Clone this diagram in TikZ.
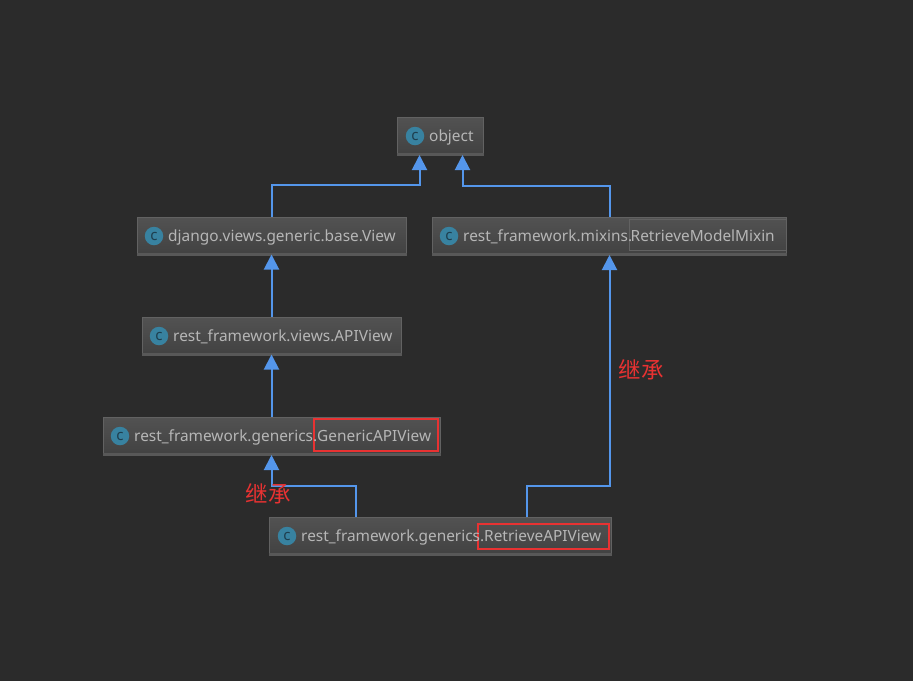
\documentclass[tikz,border=0pt]{standalone}
\usepackage{fontspec}
\setmainfont{Noto Sans}
\newfontfamily\cjk{Noto Sans CJK SC}
\usetikzlibrary{arrows.meta, positioning}
\definecolor{bgdark}{RGB}{43,43,43}
\definecolor{boxtop}{RGB}{82,82,82}
\definecolor{boxbottom}{RGB}{66,66,66}
\definecolor{boxline}{RGB}{98,98,98}
\definecolor{boxedge}{RGB}{88,88,88}
\definecolor{labelgrey}{RGB}{182,182,182}
\definecolor{icontone}{RGB}{56,130,160}
\definecolor{iconmark}{RGB}{30,62,78}
\definecolor{linkblue}{RGB}{84,150,235}
\definecolor{markred}{RGB}{232,50,50}
\tikzset{
  classbox/.style={rectangle, draw=boxline, line width=1pt, top color=boxtop, bottom color=boxbottom, minimum height=37pt, inner sep=0pt},
  classicon/.style={circle, fill=icontone, minimum size=18.5pt, inner sep=0pt, text=iconmark, font=\fontsize{15}{15}\selectfont\bfseries},
  classname/.style={text=labelgrey, inner sep=0pt, anchor=base west, font=\fontsize{15.4}{18}\selectfont},
  markbox/.style={draw=markred, line width=1.6pt, inner sep=0pt},
  note/.style={text=markred, font=\fontsize{22.5}{26}\cjk},
  arrow/.style={draw=linkblue, line width=2pt, -{Triangle[length=15pt, width=15pt, fill=linkblue]}}
}
\begin{document}
\begin{tikzpicture}[x=1pt, y=-1pt]

  \fill [bgdark] (0,0) rectangle (913,681);
  \useasboundingbox (0,0) rectangle (913,681);

  % class boxes
  \node (object) [classbox, minimum width=86pt] at (440.5,135.5) {};
  \node (view) [classbox, minimum width=269pt] at (272,235.5) {};
  \node (mixin) [classbox, minimum width=354pt] at (609.5,235.5) {};
  \node (apiview) [classbox, minimum width=259pt] at (272,335.5) {};
  \node (generic) [classbox, minimum width=337pt] at (272,435.5) {};
  \node (retrieve) [classbox, minimum width=342pt] at (440.5,535.5) {};

  % thicker lower edge
  \foreach \n in {object, view, mixin, apiview, generic, retrieve}
    \draw [boxedge, line width=2.5pt] (\n.south west) -- (\n.south east);

  % icons
  \node (objecticon) [classicon] at (415,136) {c};
  \node (viewicon) [classicon] at (154,236) {c};
  \node (mixinicon) [classicon] at (449,236) {c};
  \node (apiviewicon) [classicon] at (159,336) {c};
  \node (genericicon) [classicon] at (120,436) {c};
  \node (retrieveicon) [classicon] at (287,536) {c};

  % frames round the last part of a name
  \node (mixinmark) [markbox, draw=boxline, line width=1pt, minimum width=157pt, minimum height=31pt] at (708,235) {};
  \node (genericmark) [markbox, minimum width=124pt, minimum height=32pt] at (376,435) {};
  \node (retrievemark) [markbox, minimum width=131pt, minimum height=25pt] at (543.5,536.5) {};

  % names
  \node (objectname) [classname] at (429,141) {object};
  \node (viewname) [classname] at (168,241) {django.views.generic.base.View};
  \node (mixinname) [classname] at (463,241) {rest\_framework.mixins.};
  \node (mixinlast) [classname] at (630.5,241) {RetrieveModelMixin};
  \node (apiviewname) [classname] at (173,341) {rest\_framework.views.APIView};
  \node (genericname) [classname] at (134,441) {rest\_framework.generics.};
  \node (genericlast) [classname] at (317,441) {GenericAPIView};
  \node (retrievename) [classname] at (301,541) {rest\_framework.generics.};
  \node (retrievelast) [classname] at (484,541) {RetrieveAPIView};

  % free ends of the links
  \coordinate (objectleft) at (419.5,155);
  \coordinate (objectright) at (462.5,155);
  \coordinate (mixinlow) at (609.5,255);
  \coordinate (genericlow) at (271.5,455);
  \coordinate (mixintop) at (609.5,217);
  \coordinate (retrieveleft) at (355.5,517);
  \coordinate (retrieveright) at (526.5,517);

  \draw [arrow] (view.north -| genericlow) -- ++(0,-31.5) -| (objectleft);
  \draw [arrow] (mixintop) -- ++(0,-31.5) -| (objectright);
  \draw [arrow] (apiview.north -| genericlow) -- (view.south -| genericlow);
  \draw [arrow] (generic.north -| genericlow) -- (apiview.south -| genericlow);
  \draw [arrow] (retrieveleft) -- ++(0,-31.5) -| (genericlow);
  \draw [arrow] (retrieveright) -- ++(0,-31.5) -| (mixinlow);

  \node (notegeneric) [note] at (268,494) {继承};
  \node (notemixin) [note] at (641,370) {继承};

\end{tikzpicture}
\end{document}
